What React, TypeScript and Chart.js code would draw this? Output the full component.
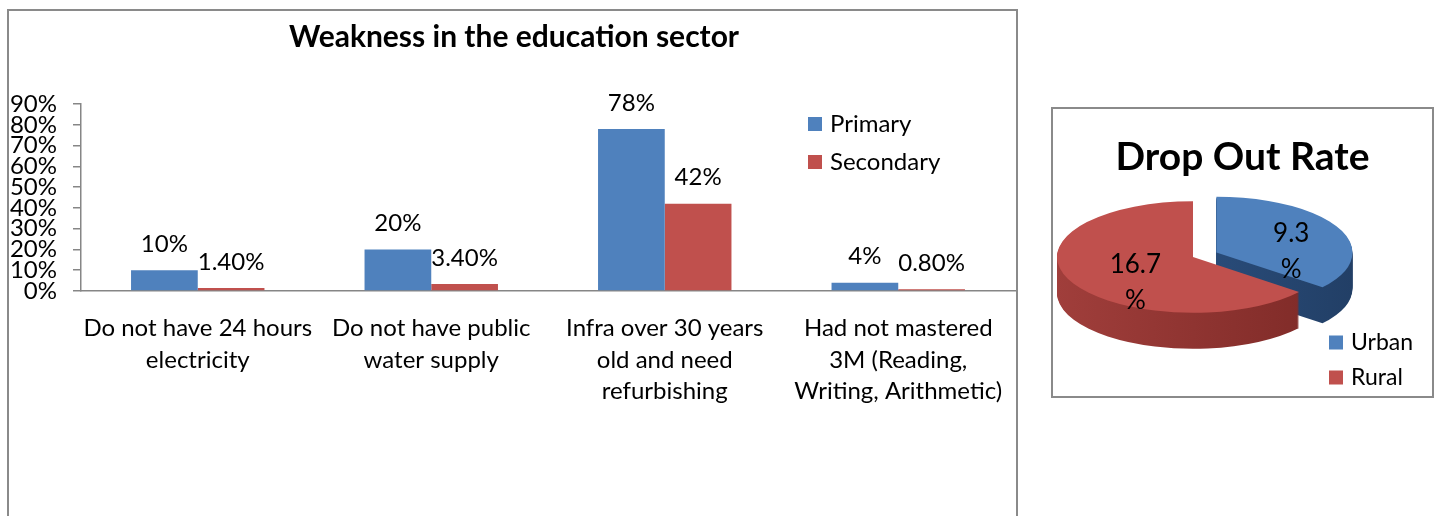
import React, { useEffect, useRef } from "react";
import { Chart, registerables } from "chart.js";

Chart.register(...registerables);

// ---------------- data ----------------
const barTitle = "Weakness in the education sector";
const categories: string[][] = [
  ["Do not have 24 hours", "electricity"],
  ["Do not have public", "water supply"],
  ["Infra over 30 years", "old and need", "refurbishing"],
  ["Had not mastered", "3M (Reading,", "Writing, Arithmetic)"],
];
const seriesNames = ["Primary", "Secondary"];
const primaryValues = [10, 20, 78, 4];
const secondaryValues = [1.4, 3.4, 42, 0.8];
const yMax = 90;
const yStep = 10;

const pieTitle = "Drop Out Rate";
const pieLabels = ["Urban", "Rural"];
const pieValues = [9.3, 16.7];

// ---------------- styles ----------------
const FONT = "Lato, 'Open Sans', sans-serif";
const BLUE = "#4F81BD";
const RED = "#C0504D";
const AXIS = "#868686";
const BOX = "#8a8a8a";

const PIE_TILT = 0.41;
const PIE_DEPTH = 36;
const PIE_EXPLODE = [26, 0];
const PIE_TOP = ["#4F81BD", "#C0504D"];
const PIE_SIDE = [
  ["#2f578a", "#223f66"],
  ["#a03e3b", "#7e2a27"],
];
const PIE_LABEL_R = [0.61, 0.47];

function fmtPct(v: number) {
  return (Number.isInteger(v) ? String(v) : v.toFixed(2)) + "%";
}

const barExtras = {
  id: "barExtras",
  afterDraw(chart: any) {
    const ctx: CanvasRenderingContext2D = chart.ctx;
    ctx.save();
    ctx.fillStyle = "#000";
    // title
    ctx.font = `bold 30px ${FONT}`;
    ctx.textAlign = "center";
    ctx.textBaseline = "alphabetic";
    ctx.fillText(barTitle, 514, 47);
    // data labels
    ctx.font = `24px ${FONT}`;
    ctx.textBaseline = "middle";
    chart.data.datasets.forEach((ds: any, i: number) => {
      const meta = chart.getDatasetMeta(i);
      meta.data.forEach((bar: any, j: number) => {
        ctx.fillText(fmtPct(ds.data[j] as number), bar.x, bar.y - 26);
      });
    });
    // legend
    ctx.textAlign = "left";
    chart.data.datasets.forEach((ds: any, i: number) => {
      const cy = 124 + i * 38;
      ctx.fillStyle = ds.backgroundColor;
      ctx.fillRect(808, cy - 7, 14, 14);
      ctx.fillStyle = "#000";
      ctx.fillText(ds.label, 830, cy);
    });
    ctx.restore();
  },
};

function sectorPath(ctx: CanvasRenderingContext2D, g: any, dy: number) {
  ctx.beginPath();
  ctx.moveTo(g.cx, g.cy + dy);
  ctx.ellipse(g.cx, g.cy + dy, g.r, g.r * PIE_TILT, 0, g.a0, g.a1);
  ctx.closePath();
}

function pieGeometry(chart: any) {
  const arcs = chart.getDatasetMeta(0).data;
  return arcs.map((a: any, i: number) => {
    const mid = (a.startAngle + a.endAngle) / 2;
    const d = PIE_EXPLODE[i] || 0;
    return {
      i,
      a0: a.startAngle,
      a1: a.endAngle,
      r: a.outerRadius,
      mid,
      cx: a.x + Math.cos(mid) * d,
      cy: a.y + Math.sin(mid) * d * PIE_TILT,
    };
  });
}

const pie3d = {
  id: "pie3d",
  beforeDatasetsDraw(chart: any) {
    const ctx: CanvasRenderingContext2D = chart.ctx;
    const geo = pieGeometry(chart);
    const order = [...geo].sort((p: any, q: any) => Math.sin(p.mid) - Math.sin(q.mid));
    ctx.save();
    for (const g of order) {
      const grad = ctx.createLinearGradient(g.cx - g.r, 0, g.cx + g.r, 0);
      grad.addColorStop(0, PIE_SIDE[g.i][0]);
      grad.addColorStop(1, PIE_SIDE[g.i][1]);
      ctx.fillStyle = grad;
      for (let dy = PIE_DEPTH; dy >= 1; dy--) {
        sectorPath(ctx, g, dy);
        ctx.fill();
      }
    }
    for (const g of order) {
      ctx.fillStyle = PIE_TOP[g.i];
      sectorPath(ctx, g, 0);
      ctx.fill();
    }
    ctx.restore();
    return false;
  },
  afterDraw(chart: any) {
    const ctx: CanvasRenderingContext2D = chart.ctx;
    const geo = pieGeometry(chart);
    const values = chart.data.datasets[0].data as number[];
    ctx.save();
    ctx.fillStyle = "#000";
    ctx.textAlign = "center";
    ctx.textBaseline = "alphabetic";
    ctx.font = `bold 39px ${FONT}`;
    ctx.fillText(pieTitle, 198.5, 70);
    // labels
    ctx.font = `26px ${FONT}`;
    ctx.textBaseline = "middle";
    geo.forEach((g: any) => {
      const f = PIE_LABEL_R[g.i];
      const x = g.cx + Math.cos(g.mid) * g.r * f;
      const y = g.cy + Math.sin(g.mid) * g.r * PIE_TILT * f + 14;
      ctx.fillText(String(values[g.i]), x, y - 18);
      ctx.fillText("%", x, y + 18);
    });
    // legend
    ctx.font = `23px ${FONT}`;
    ctx.textAlign = "left";
    chart.data.labels.forEach((lab: string, i: number) => {
      const cy = 242.5 + i * 35;
      ctx.fillStyle = PIE_TOP[i];
      ctx.fillRect(285, cy - 7, 14, 14);
      ctx.fillStyle = "#000";
      ctx.fillText(lab, 307, cy);
    });
    ctx.restore();
  },
};

export default function App() {
  const barRef = useRef<HTMLCanvasElement>(null);
  const pieRef = useRef<HTMLCanvasElement>(null);

  useEffect(() => {
    const bar = new Chart(barRef.current as HTMLCanvasElement, {
      type: "bar",
      data: {
        labels: categories as any,
        datasets: [
          {
            label: seriesNames[0],
            data: primaryValues,
            backgroundColor: BLUE,
            categoryPercentage: 2 / 3.5,
            barPercentage: 1,
          },
          {
            label: seriesNames[1],
            data: secondaryValues,
            backgroundColor: RED,
            categoryPercentage: 2 / 3.5,
            barPercentage: 1,
          },
        ],
      },
      options: {
        animation: false,
        responsive: false,
        maintainAspectRatio: false,
        layout: { padding: { left: 0, right: 15, top: 104, bottom: 0 } },
        plugins: {
          legend: { display: false },
          title: { display: false },
          tooltip: { enabled: false },
        },
        scales: {
          x: {
            grid: { display: false },
            border: { display: true, color: AXIS, width: 1.5 },
            ticks: {
              autoSkip: false,
              maxRotation: 0,
              minRotation: 0,
              padding: 14,
              color: "#000",
              font: { family: FONT, size: 24, lineHeight: 31.5 / 24 },
            },
            afterFit: (s: any) => {
              s.height = 225;
            },
          },
          y: {
            min: 0,
            max: yMax,
            ticks: {
              stepSize: yStep,
              autoSkip: false,
              padding: 16,
              color: "#000",
              font: { family: FONT, size: 24 },
              callback: (v: any) => Math.round(Number(v)) + "%",
            },
            grid: { drawOnChartArea: false, tickLength: 8, color: AXIS, lineWidth: 1.5 },
            border: { color: AXIS, width: 1.5 },
            afterFit: (s: any) => {
              s.width = 81;
            },
          },
        },
      },
      plugins: [barExtras],
    });

    const pie = new Chart(pieRef.current as HTMLCanvasElement, {
      type: "pie",
      data: {
        labels: pieLabels,
        datasets: [
          {
            data: pieValues,
            backgroundColor: PIE_TOP,
            borderWidth: 0,
            radius: 136,
          } as any,
        ],
      },
      options: {
        animation: false,
        responsive: false,
        maintainAspectRatio: false,
        layout: { padding: { left: 0, right: 97, top: 20, bottom: 16 } },
        plugins: {
          legend: { display: false },
          title: { display: false },
          tooltip: { enabled: false },
        },
      },
      plugins: [pie3d],
    });

    return () => {
      bar.destroy();
      pie.destroy();
    };
  }, []);

  return (
    <div
      style={{
        position: "absolute",
        left: 0,
        top: 0,
        width: 1439,
        height: 516,
        overflow: "hidden",
        background: "#fff",
      }}
    >
      <canvas
        ref={barRef}
        width={1030}
        height={516}
        style={{ position: "absolute", left: 0, top: 0, width: 1030, height: 516 }}
      />
      <canvas
        ref={pieRef}
        width={395}
        height={310}
        style={{ position: "absolute", left: 1044, top: 100, width: 395, height: 310 }}
      />
      <div
        style={{
          position: "absolute",
          left: 7,
          top: 9,
          width: 1011,
          height: 520,
          border: `2px solid ${BOX}`,
          boxSizing: "border-box",
          pointerEvents: "none",
        }}
      />
      <div
        style={{
          position: "absolute",
          left: 1051,
          top: 107,
          width: 383,
          height: 291,
          border: `2px solid ${BOX}`,
          boxSizing: "border-box",
          pointerEvents: "none",
        }}
      />
    </div>
  );
}
